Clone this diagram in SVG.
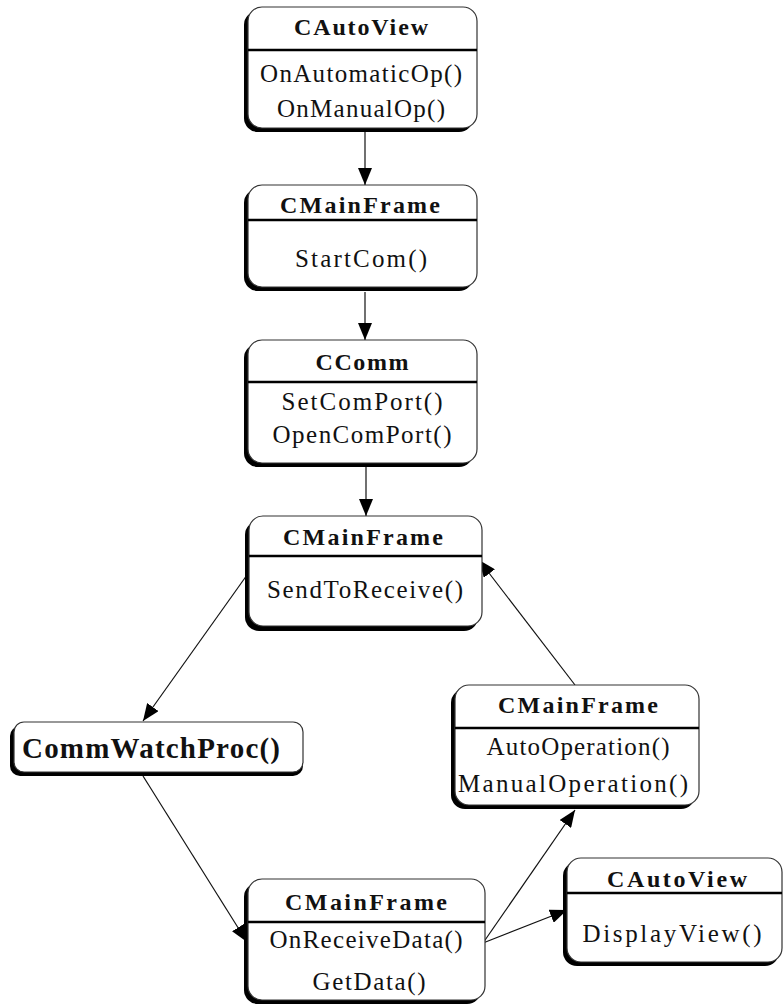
<svg xmlns="http://www.w3.org/2000/svg" width="783" height="1007" viewBox="0 0 783 1007">
  <defs>
    <style>
      .shadow { fill: #000; }
      .box { fill: #fff; stroke: #333; stroke-width: 1.2; }
      .sep { stroke: #000; stroke-width: 2.5; }
      .title { font-family: "Liberation Serif", "Times New Roman", serif; font-weight: bold; font-size: 24px; fill: #111; text-anchor: middle; }
      .op { font-family: "Liberation Serif", "Times New Roman", serif; font-size: 25px; fill: #111; text-anchor: middle; }
      .big { font-family: "Liberation Serif", "Times New Roman", serif; font-weight: bold; font-size: 29px; fill: #111; }
      .edge { stroke: #111; stroke-width: 1.2; fill: none; marker-end: url(#arrow); }
    </style>
    <marker id="arrow" markerUnits="userSpaceOnUse" markerWidth="18" markerHeight="14" refX="17" refY="7" orient="auto">
      <path d="M0,0 L17,7 L0,14 z" fill="#000"/>
    </marker>
  </defs>

  <rect width="783" height="1007" fill="#fff"/>

  <g id="connectors">
    <line class="edge" x1="365" y1="129" x2="365" y2="185"/>
    <line class="edge" x1="365" y1="292" x2="365" y2="340"/>
    <line class="edge" x1="366" y1="467" x2="366" y2="516"/>
    <line class="edge" x1="575" y1="685" x2="479" y2="560"/>
    <line class="edge" x1="247" y1="575" x2="143" y2="721"/>
    <line class="edge" x1="143" y1="776" x2="247" y2="942"/>
    <line class="edge" x1="483" y1="943" x2="575" y2="810"/>
    <line class="edge" x1="483" y1="943" x2="567" y2="910"/>
  </g>

  <g id="cautoview-top">
    <rect class="shadow" x="244" y="11" width="229" height="121" rx="14"/>
    <rect class="box" x="248" y="7" width="229" height="121" rx="14"/>
    <line class="sep" x1="248" y1="50" x2="477" y2="50"/>
    <text class="title" x="361" y="35" textLength="134" lengthAdjust="spacing">CAutoView</text>
    <text class="op" x="361" y="82" textLength="202" lengthAdjust="spacing">OnAutomaticOp()</text>
    <text class="op" x="361" y="117" textLength="168" lengthAdjust="spacing">OnManualOp()</text>
  </g>

  <g id="cmainframe-startcom">
    <rect class="shadow" x="244" y="189" width="229" height="102" rx="14"/>
    <rect class="box" x="248" y="185" width="229" height="102" rx="14"/>
    <line class="sep" x1="248" y1="220" x2="477" y2="220"/>
    <text class="title" x="360" y="213" textLength="160" lengthAdjust="spacing">CMainFrame</text>
    <text class="op" x="361" y="267" textLength="132" lengthAdjust="spacing">StartCom()</text>
  </g>

  <g id="ccomm">
    <rect class="shadow" x="244" y="344" width="229" height="123" rx="14"/>
    <rect class="box" x="248" y="340" width="229" height="123" rx="14"/>
    <line class="sep" x1="248" y1="382" x2="477" y2="382"/>
    <text class="title" x="362" y="370" textLength="93" lengthAdjust="spacing">CComm</text>
    <text class="op" x="362" y="410" textLength="161" lengthAdjust="spacing">SetComPort()</text>
    <text class="op" x="362" y="443" textLength="179" lengthAdjust="spacing">OpenComPort()</text>
  </g>

  <g id="cmainframe-send">
    <rect class="shadow" x="245" y="521" width="233" height="110" rx="14"/>
    <rect class="box" x="249" y="516" width="233" height="110" rx="14"/>
    <line class="sep" x1="249" y1="556" x2="482" y2="556"/>
    <text class="title" x="363" y="545" textLength="160" lengthAdjust="spacing">CMainFrame</text>
    <text class="op" x="365" y="598" textLength="196" lengthAdjust="spacing">SendToReceive()</text>
  </g>

  <g id="commwatchproc">
    <rect class="shadow" x="10" y="726" width="293" height="50" rx="10"/>
    <rect class="box" x="14" y="722" width="289" height="50" rx="10"/>
    <text class="big" x="22" y="758" textLength="258" lengthAdjust="spacing">CommWatchProc()</text>
  </g>

  <g id="cmainframe-operation">
    <rect class="shadow" x="451" y="689" width="244" height="120" rx="14"/>
    <rect class="box" x="455" y="685" width="244" height="120" rx="14"/>
    <line class="sep" x1="455" y1="728" x2="699" y2="728"/>
    <text class="title" x="578" y="713" textLength="160" lengthAdjust="spacing">CMainFrame</text>
    <text class="op" x="578" y="755" textLength="183" lengthAdjust="spacing">AutoOperation()</text>
    <text class="op" x="573" y="792" textLength="230" lengthAdjust="spacing">ManualOperation()</text>
  </g>

  <g id="cmainframe-receive">
    <rect class="shadow" x="244" y="883" width="237" height="121" rx="14"/>
    <rect class="box" x="248" y="879" width="237" height="121" rx="14"/>
    <line class="sep" x1="248" y1="922" x2="485" y2="922"/>
    <text class="title" x="366" y="910" textLength="162" lengthAdjust="spacing">CMainFrame</text>
    <text class="op" x="366" y="948" textLength="193" lengthAdjust="spacing">OnReceiveData()</text>
    <text class="op" x="369" y="990" textLength="113" lengthAdjust="spacing">GetData()</text>
  </g>

  <g id="cautoview-display">
    <rect class="shadow" x="563" y="862" width="216" height="104" rx="14"/>
    <rect class="box" x="567" y="858" width="215" height="104" rx="14"/>
    <line class="sep" x1="567" y1="893" x2="782" y2="893"/>
    <text class="title" x="677" y="887" textLength="140" lengthAdjust="spacing">CAutoView</text>
    <text class="op" x="672" y="942" textLength="179" lengthAdjust="spacing">DisplayView()</text>
  </g>
</svg>
